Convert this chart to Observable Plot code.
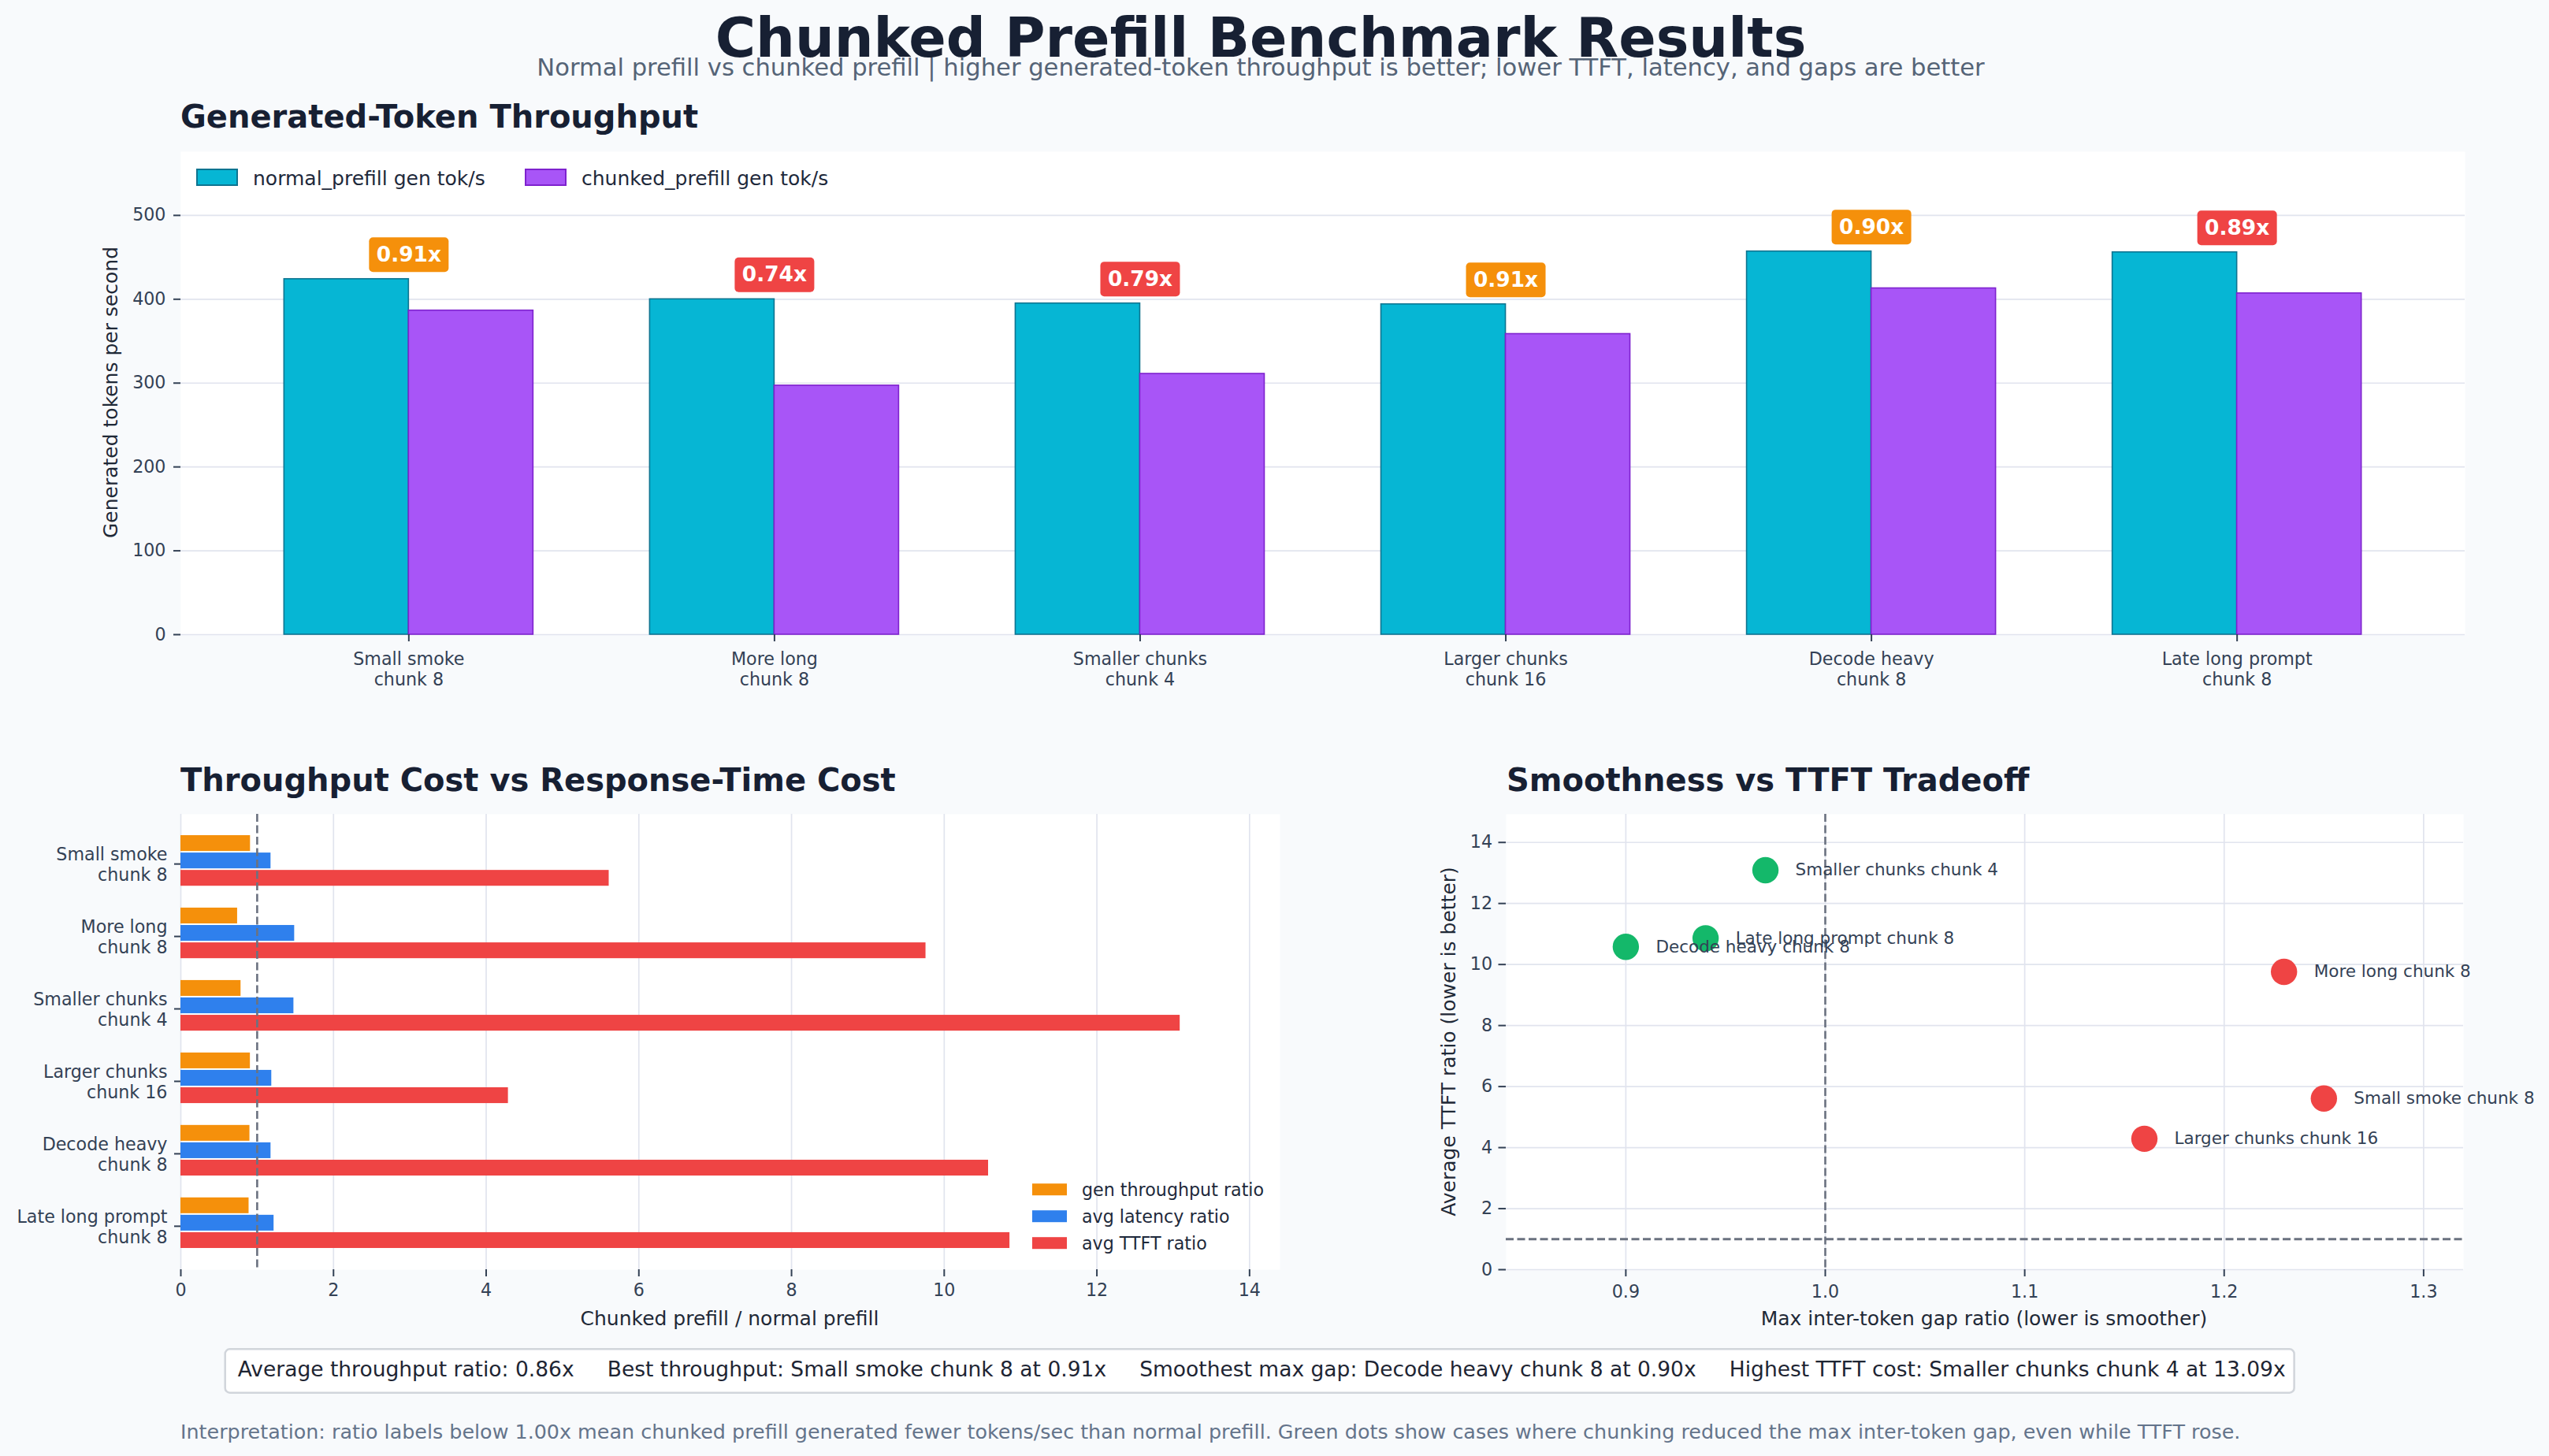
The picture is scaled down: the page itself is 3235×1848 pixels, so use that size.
<!DOCTYPE html>
<html>
<head>
<meta charset="utf-8">
<script src="https://cdn.jsdelivr.net/npm/d3@7"></script>
<script src="https://cdn.jsdelivr.net/npm/@observablehq/plot@0.6"></script>
<style>
  html, body { margin: 0; padding: 0; background: #f8fafc; }
  #page { position: relative; width: 3235px; height: 1848px; background: #f8fafc; overflow: hidden; font-family: "DejaVu Sans", sans-serif; }
</style>
</head>
<body>
<div id="page"></div>
<script>
// ---- Benchmark data -------------------------------------------------------
const caseNames = ["Small smoke", "More long", "Smaller chunks", "Larger chunks", "Decode heavy", "Late long prompt"];
const chunkSizes = [8, 8, 4, 16, 8, 8];
const normalGenTps = [424, 400, 395, 394, 457, 456];      // normal_prefill gen tok/s
const chunkedGenTps = [386.5, 297, 311, 358.5, 413, 407];  // chunked_prefill gen tok/s
const avgLatencyRatio = [1.18, 1.49, 1.48, 1.19, 1.18, 1.22];
const avgTtftRatio = [5.61, 9.76, 13.09, 4.29, 10.58, 10.86];
const maxGapRatio = [1.25, 1.23, 0.97, 1.16, 0.90, 0.94];

const throughputTicks = [0, 100, 200, 300, 400, 500];
const costTicks = [0, 2, 4, 6, 8, 10, 12, 14];
const gapTicks = [0.9, 1.0, 1.1, 1.2, 1.3];
const ttftTicks = [0, 2, 4, 6, 8, 10, 12, 14];

// ---- Palette & type -------------------------------------------------------
const FONT = "DejaVu Sans";
const INK = "#334155";
const DARK = "#172033";
const GRID = "#e1e4ee";
const CYAN = "#06b6d4", CYAN_EDGE = "#0e7490";
const PURPLE = "#a855f7", PURPLE_EDGE = "#7e22ce";
const ORANGE = "#f5900b", BLUE = "#2f80ed", RED = "#ef4444", GREEN = "#14b86a";
const REF = "#6b7280";

const rows = caseNames.map((name, i) => ({
  label: `${name}\nchunk ${chunkSizes[i]}`,
  name: `${name} chunk ${chunkSizes[i]}`,
  normal: normalGenTps[i],
  chunked: chunkedGenTps[i],
  ratio: chunkedGenTps[i] / normalGenTps[i],
  latency: avgLatencyRatio[i],
  ttft: avgTtftRatio[i],
  gap: maxGapRatio[i]
}));
const labels = rows.map(d => d.label);
const ratioColor = r => (r >= 0.9 ? ORANGE : RED);

const page = document.getElementById("page");
function place(node, left, top) {
  node.style.position = "absolute";
  node.style.left = left + "px";
  node.style.top = top + "px";
  page.appendChild(node);
}
const baseStyle = {fontFamily: FONT, background: "transparent", overflow: "visible", maxWidth: "none"};

// rounded badge drawn as a dot symbol
function roundedBox(w, h, rad) {
  return {
    draw(ctx) {
      const x0 = -w / 2, y0 = -h / 2, x1 = w / 2, y1 = h / 2;
      ctx.moveTo(x0 + rad, y0);
      ctx.lineTo(x1 - rad, y0);
      ctx.arcTo(x1, y0, x1, y0 + rad, rad);
      ctx.lineTo(x1, y1 - rad);
      ctx.arcTo(x1, y1, x1 - rad, y1, rad);
      ctx.lineTo(x0 + rad, y1);
      ctx.arcTo(x0, y1, x0, y1 - rad, rad);
      ctx.lineTo(x0, y0 + rad);
      ctx.arcTo(x0, y0, x0 + rad, y0, rad);
      ctx.closePath();
    }
  };
}

// ---- Panel 1: generated-token throughput (grouped bars) -------------------
{
  const W = 3160, H = 700, mL = 229, mR = 32, mT = 12, mB = 75;
  const pi = 0.319, po = 0.283;
  const step = (W - mL - mR) / (labels.length - pi + 2 * po);
  const half = step * (1 - pi) / 2;
  const top = d => Math.max(d.normal, d.chunked);
  const chart = Plot.plot({
    width: W, height: H, marginLeft: mL, marginRight: mR, marginTop: mT, marginBottom: mB,
    style: baseStyle,
    x: {type: "band", domain: labels, paddingInner: pi, paddingOuter: po, round: false, label: null},
    y: {domain: [0, 576], label: null},
    marks: [
      Plot.frame({fill: "white", stroke: "none"}),
      Plot.gridY({ticks: throughputTicks, stroke: GRID, strokeOpacity: 1, strokeWidth: 1.7}),
      Plot.barY(rows, {x: "label", y: "normal", insetRight: half, fill: CYAN, stroke: CYAN_EDGE, strokeWidth: 1.6}),
      Plot.barY(rows, {x: "label", y: "chunked", insetLeft: half, fill: PURPLE, stroke: PURPLE_EDGE, strokeWidth: 1.6}),
      Plot.dot(rows, {x: "label", y: top, dy: -31, symbol: roundedBox(101, 44, 5), r: 10, fill: d => ratioColor(d.ratio), stroke: "none"}),
      Plot.text(rows, {x: "label", y: top, dy: -31, text: d => d.ratio.toFixed(2) + "x", fill: "white", fontWeight: "bold", fontSize: 26.4}),
      Plot.axisY({ticks: throughputTicks, tickSize: 9, tickPadding: 10, fontSize: 22.2, color: INK, strokeWidth: 2, label: null}),
      Plot.axisX({tickSize: 9, tickPadding: 11, fontSize: 22.2, lineHeight: 1.17, color: INK, strokeWidth: 2, label: null})
    ]
  });
  place(chart, 0, 180);
}

// ---- Panel 2: throughput cost vs response-time cost (horizontal bars) -----
{
  const W = 1650, H = 700, mL = 229, mR = 26, mT = 33, mB = 89;
  const pi = 0.28, po = 0.283;
  const step = (H - mT - mB) / (labels.length - pi + 2 * po);
  const sub = step * (1 - pi) / 3;
  const chart = Plot.plot({
    width: W, height: H, marginLeft: mL, marginRight: mR, marginTop: mT, marginBottom: mB,
    style: baseStyle,
    x: {domain: [0, d3.max(avgTtftRatio) * 1.1], label: null},
    y: {type: "band", domain: labels, paddingInner: pi, paddingOuter: po, round: false, label: null},
    marks: [
      Plot.frame({fill: "white", stroke: "none"}),
      Plot.gridX({ticks: costTicks, stroke: GRID, strokeOpacity: 1, strokeWidth: 1.7}),
      Plot.barX(rows, {y: "label", x: "ratio", fill: ORANGE, insetTop: 1, insetBottom: 2 * sub + 1}),
      Plot.barX(rows, {y: "label", x: "latency", fill: BLUE, insetTop: sub + 1, insetBottom: sub + 1}),
      Plot.barX(rows, {y: "label", x: "ttft", fill: RED, insetTop: 2 * sub + 1, insetBottom: 1}),
      Plot.ruleX([1], {stroke: REF, strokeDasharray: "10,4.5", strokeWidth: 2.6}),
      Plot.axisX({ticks: costTicks, tickSize: 9, tickPadding: 9, fontSize: 22.2, color: INK, strokeWidth: 2, label: null}),
      Plot.axisY({tickSize: 8, tickPadding: 9, fontSize: 22.2, lineHeight: 1.17, dy: 4, color: INK, strokeWidth: 2, label: null})
    ]
  });
  place(chart, 0, 1000);
}

// ---- Panel 3: smoothness vs TTFT tradeoff (scatter) -----------------------
{
  const W = 1485, H = 700, mL = 161, mR = 109, mT = 33, mB = 89;
  const chart = Plot.plot({
    width: W, height: H, marginLeft: mL, marginRight: mR, marginTop: mT, marginBottom: mB,
    style: baseStyle,
    x: {domain: [0.84, 1.32], label: null},
    y: {domain: [0, d3.max(avgTtftRatio) * 1.14], label: null},
    marks: [
      Plot.frame({fill: "white", stroke: "none"}),
      Plot.gridX({ticks: gapTicks, stroke: GRID, strokeOpacity: 1, strokeWidth: 1.7}),
      Plot.gridY({ticks: ttftTicks, stroke: GRID, strokeOpacity: 1, strokeWidth: 1.7}),
      Plot.dot(rows, {x: "gap", y: "ttft", r: 16.7, fill: d => (d.gap < 1 ? GREEN : RED), stroke: "none"}),
      Plot.ruleX([1], {stroke: REF, strokeDasharray: "10,4.5", strokeWidth: 2.6}),
      Plot.ruleY([1], {stroke: REF, strokeDasharray: "10,4.5", strokeWidth: 2.8}),
      Plot.text(rows, {x: "gap", y: "ttft", text: "name", dx: 38, textAnchor: "start", fontSize: 21.5, fill: INK}),
      Plot.axisX({ticks: gapTicks, tickFormat: ".1f", tickSize: 9, tickPadding: 11, fontSize: 22.2, color: INK, strokeWidth: 2, label: null}),
      Plot.axisY({ticks: ttftTicks, tickSize: 9.5, tickPadding: 8, fontSize: 22.2, color: INK, strokeWidth: 2, label: null})
    ]
  });
  place(chart, 1750, 1000);
}

// ---- Titles, legends, summary and notes -----------------------------------
const overlay = d3.create("svg")
  .attr("width", 3235).attr("height", 1848)
  .style("position", "absolute").style("left", "0px").style("top", "0px")
  .style("font-family", FONT).style("pointer-events", "none");
page.appendChild(overlay.node());

function label(x, y, str, {size = 22.2, weight = "normal", fill = INK, anchor = "start", rotate = 0, baseline = null} = {}) {
  const t = overlay.append("text")
    .attr("x", x).attr("y", y)
    .attr("font-size", size).attr("font-weight", weight)
    .attr("fill", fill).attr("text-anchor", anchor)
    .style("white-space", "pre")
    .text(str);
  if (rotate) t.attr("transform", `rotate(${rotate},${x},${y})`);
  if (baseline) t.attr("dominant-baseline", baseline);
  return t;
}

label(1600, 72, "Chunked Prefill Benchmark Results", {size: 70, weight: "bold", fill: DARK, anchor: "middle"});
label(1600, 96, "Normal prefill vs chunked prefill | higher generated-token throughput is better; lower TTFT, latency, and gaps are better",
  {size: 30.6, fill: "#556477", anchor: "middle"});

label(229, 162, "Generated-Token Throughput", {size: 40, weight: "bold", fill: DARK});
label(229, 1004, "Throughput Cost vs Response-Time Cost", {size: 40, weight: "bold", fill: DARK});
label(1912, 1004, "Smoothness vs TTFT Tradeoff", {size: 40, weight: "bold", fill: DARK});

// axis titles
label(140, 498, "Generated tokens per second", {size: 25, fill: "#1f2937", anchor: "middle", rotate: -90, baseline: "central"});
label(926, 1682, "Chunked prefill / normal prefill", {size: 25, fill: "#1f2937", anchor: "middle"});
label(2518, 1682, "Max inter-token gap ratio (lower is smoother)", {size: 25, fill: "#1f2937", anchor: "middle"});
label(1838, 1322, "Average TTFT ratio (lower is better)", {size: 25, fill: "#1f2937", anchor: "middle", rotate: -90, baseline: "central"});

// legend: throughput panel
const topLegend = [
  {text: "normal_prefill gen tok/s", fill: CYAN, edge: CYAN_EDGE, x: 250},
  {text: "chunked_prefill gen tok/s", fill: PURPLE, edge: PURPLE_EDGE, x: 667}
];
topLegend.forEach(e => {
  overlay.append("rect").attr("x", e.x).attr("y", 215).attr("width", 51).attr("height", 20)
    .attr("fill", e.fill).attr("stroke", e.edge).attr("stroke-width", 2);
  label(e.x + 71, 234.5, e.text, {size: 25, fill: "#1e293b"});
});

// legend: cost panel
const costLegend = [
  {text: "gen throughput ratio", fill: ORANGE},
  {text: "avg latency ratio", fill: BLUE},
  {text: "avg TTFT ratio", fill: RED}
];
costLegend.forEach((e, i) => {
  const cy = 1509.7 + i * 34;
  overlay.append("rect").attr("x", 1310).attr("y", cy - 7.5).attr("width", 44).attr("height", 15).attr("fill", e.fill);
  label(1373, cy + 8, e.text, {size: 22.2, fill: "#1e293b"});
});

// summary strip
const avgRatio = d3.mean(rows, d => d.ratio);
const best = d3.greatest(rows, d => d.ratio);
const smoothest = d3.least(rows, d => d.gap);
const worstTtft = d3.greatest(rows, d => d.ttft);
const sep = "     ";
const summary = `Average throughput ratio: ${avgRatio.toFixed(2)}x${sep}` +
  `Best throughput: ${best.name} at ${best.ratio.toFixed(2)}x${sep}` +
  `Smoothest max gap: ${smoothest.name} at ${smoothest.gap.toFixed(2)}x${sep}` +
  `Highest TTFT cost: ${worstTtft.name} at ${worstTtft.ttft.toFixed(2)}x`;
const box = overlay.append("rect").attr("x", 285.7).attr("y", 1712.3).attr("height", 55.4)
  .attr("rx", 6).attr("fill", "white").attr("stroke", "#d1d5db").attr("stroke-width", 2.5);
const sumText = label(301.7, 1747, summary, {size: 26.5, fill: "#1e2533"});
box.attr("width", sumText.node().getComputedTextLength() + 27);

label(229, 1826, "Interpretation: ratio labels below 1.00x mean chunked prefill generated fewer tokens/sec than normal prefill. Green dots show cases where chunking reduced the max inter-token gap, even while TTFT rose.",
  {size: 25.4, fill: "#64748b"});
</script>
</body>
</html>
